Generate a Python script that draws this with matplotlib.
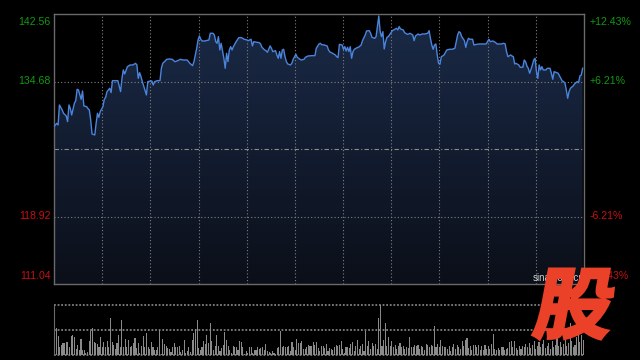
import numpy as np
import matplotlib
matplotlib.use("Agg")
import matplotlib.pyplot as plt
from matplotlib.colors import LinearSegmentedColormap
from matplotlib.font_manager import FontProperties
from matplotlib.patches import PathPatch
from matplotlib.textpath import TextPath
from matplotlib.transforms import Affine2D, IdentityTransform, blended_transform_factory

# 昨收与刻度
prev_close = 126.80
price_ticks = [142.56, 134.68, 126.80, 118.92, 111.04]
pct_ticks = ["+12.43%", "+6.21%", "", "-6.21%", "-12.43%"]
session_len = 390

# 分时价格 (分钟, 价格)
minutes = [0, 2, 3, 4, 6, 7, 9, 10, 11, 12, 13, 15, 16, 17, 18, 20, 21, 22, 24, 25,
           26, 27, 28, 30, 31, 32, 33, 34, 36, 37, 38, 39, 41, 42, 43, 45, 47, 49, 50, 51,
           52, 54, 56, 58, 60, 61, 62, 63, 64, 65, 66, 68, 69, 71, 72, 73, 74, 76, 78, 79,
           80, 82, 83, 85, 87, 89, 91, 93, 95,
           98, 100, 102, 103, 105, 106, 107, 108, 109, 111, 114, 115, 117, 118, 119, 120, 121, 122, 123, 125,
           126, 127, 128, 129, 130, 131, 132, 134, 136, 138, 140, 142, 143, 145, 146, 147, 149, 151, 152, 153,
           155, 156, 157, 158, 159, 160, 161, 163, 164, 165, 166, 167, 168, 169, 170, 171, 172, 174, 175, 176,
           178, 179, 181, 182, 184, 185, 187, 190, 192,
           193, 195, 196, 197, 199, 201, 202, 203, 205, 207, 208, 209, 210, 212, 213, 214, 215, 216, 217, 218,
           219, 220, 221, 223, 224, 226, 227, 229, 230, 232, 233, 234, 236, 237, 238, 239, 240, 241, 242, 243,
           244, 245, 246, 248, 249, 250, 252, 253, 254, 255, 257, 258, 260, 261, 262, 264, 265, 266, 268, 269,
           271, 273, 275, 276, 277, 278, 279, 280, 281, 282, 283, 284, 285, 286, 287, 289, 291,
           293, 295, 296, 297, 298, 299, 300, 302, 303, 304, 305, 306, 308, 309, 311, 313, 316, 318, 320, 321,
           323, 325, 326, 327, 329, 331, 332, 333, 334, 336, 337, 338, 339, 340, 342, 343, 345, 346, 347, 348,
           349, 350, 351, 352, 353, 354, 355, 356, 357, 358, 359, 360, 362, 363, 365, 366, 367, 368, 370, 371,
           372, 374, 375, 376, 377, 378, 379, 380, 382, 383, 385, 386, 387, 388, 389]
prices = [129.41, 129.80, 129.60, 131.94, 131.36, 130.97, 130.66, 130.00, 131.94, 131.55,
          130.77, 132.13, 132.45, 133.77, 133.69, 132.60, 133.57, 131.82, 131.75, 131.51,
          131.36, 130.19, 128.55, 128.44, 129.80, 130.97, 130.50, 131.16, 131.75, 132.60,
          132.83, 133.50, 133.89, 133.38, 134.78, 134.78, 134.78, 133.50, 135.05, 136.03,
          135.56, 136.41, 136.61, 136.61, 136.80, 136.61, 135.05, 135.71, 135.25, 134.66,
          134.16, 133.11, 134.66, 134.74, 134.74, 134.27, 134.66, 134.78, 134.78, 136.22,
          136.80, 137.11, 137.27, 137.31, 137.27, 136.99, 137.11, 137.27, 137.19,
          137.19, 136.80, 136.53, 137.00, 138.56, 139.53, 140.00, 139.61, 139.41, 139.41,
          139.53, 140.31, 140.31, 140.11, 139.33, 139.14, 139.92, 138.36, 139.14, 137.39,
          136.22, 137.97, 137.00, 138.36, 138.75, 138.36, 138.75, 139.33, 139.80, 139.80,
          139.61, 139.53, 139.45, 139.61, 138.83, 139.33, 139.26, 139.22, 139.06, 138.67,
          138.36, 138.28, 138.09, 138.44, 138.83, 138.56, 138.17, 138.28, 137.78, 137.39,
          138.17, 137.39, 138.36, 138.44, 137.58, 137.00, 136.73, 136.61, 136.80, 137.27,
          137.86, 137.51, 137.27, 137.19, 137.27, 137.51, 137.66, 137.70, 137.70,
          138.56, 139.06, 139.14, 138.98, 138.94, 138.83, 138.36, 138.13, 137.97, 137.78,
          137.58, 137.47, 139.02, 138.94, 138.44, 138.75, 138.24, 138.67, 138.17, 138.75,
          137.39, 138.17, 138.44, 138.63, 138.67, 138.94, 139.45, 140.11, 140.58, 140.62,
          140.31, 139.84, 139.72, 139.92, 141.09, 142.33, 140.50, 139.92, 140.50, 138.48,
          139.33, 139.84, 139.92, 140.38, 140.62, 140.70, 140.89, 140.70, 141.09, 140.81,
          140.70, 140.38, 140.19, 140.23, 140.31, 140.11, 139.45, 140.00, 140.23, 140.11,
          140.23, 140.23, 140.31, 140.62, 139.72, 138.94, 138.44, 138.94, 139.06, 137.78,
          136.80, 136.69, 137.58, 137.66, 137.78, 138.36, 138.44,
          138.44, 138.56, 139.33, 140.11, 140.50, 140.38, 139.92, 139.45, 138.67, 139.33,
          139.72, 139.61, 139.61, 138.94, 139.02, 139.06, 139.06, 139.06, 139.61, 139.33,
          139.41, 139.22, 139.06, 139.06, 139.06, 139.14, 139.06, 138.17, 137.58, 137.78,
          137.66, 137.58, 136.73, 136.80, 136.61, 136.34, 136.34, 137.19, 137.00, 136.49,
          136.22, 135.64, 136.10, 136.61, 137.19, 137.39, 135.83, 135.05, 136.61, 136.03,
          136.42, 136.03, 136.03, 136.22, 136.22, 135.64, 134.94, 135.83, 135.71, 135.64,
          135.33, 134.74, 134.67, 134.47, 133.69, 132.72, 133.50, 133.89, 134.16, 134.39,
          134.67, 134.55, 135.33, 135.44, 136.22]

# 成交量 (相对值)
volumes = [26, 55, 39, 16, 21, 24, 24, 26, 27, 16, 39, 41, 36, 12, 21, 10, 32, 10, 10, 5,
           7, 29, 49, 55, 27, 24, 22, 16, 37, 16, 27, 17, 29, 16, 75, 27, 20, 12, 24, 41,
           17, 70, 16, 32, 16, 30, 16, 19, 24, 34, 14, 24, 5, 19, 39, 16, 44, 17, 12, 26,
           16, 10, 10, 16, 51, 2, 32, 22, 19, 14, 12, 7, 17, 24, 17, 17, 19, 7, 10, 30,
           5, 9, 17, 7, 30, 44, 53, 70, 14, 10, 17, 28, 22, 41, 24, 65, 29, 10, 19, 41,
           19, 9, 14, 20, 46, 30, 19, 10, 5, 19, 16, 17, 10, 28, 26, 17, 2, 9, 5, 17,
           17, 5, 10, 10, 16, 12, 14, 17, 10, 22, 9, 7, 5, 9, 5, 3, 14, 17, 49, 16,
           19, 17, 17, 19, 9, 26, 16, 10, 32, 24, 24, 28, 12, 12, 17, 21, 19, 19, 26, 21,
           26, 14, 9, 19, 19, 14, 22, 9, 14, 12, 10, 17, 21, 19, 21, 29, 12, 5, 16, 16, 14,
           22, 26, 9, 19, 30, 12, 19, 22, 9, 48, 19, 29, 12, 24, 19, 22, 12, 75, 100, 19,
           30, 65, 19, 36, 19, 28, 16, 21, 12, 19, 24, 17, 19, 12, 17, 14, 36, 16, 17, 21,
           19, 21, 12, 19, 16, 10, 22, 21, 16, 21, 19, 59, 16, 22, 16, 30, 19, 16, 17, 12,
           19, 9, 17, 22, 12, 21, 17, 12, 29, 19, 30, 34, 14, 19, 10, 21, 21, 16, 21, 10,
           19, 10, 21, 12, 19, 12, 22, 43, 12, 10, 14, 10, 17, 16, 10, 12, 14, 26, 28, 17,
           28, 14, 10, 19, 12, 19, 17, 22,
           17, 24, 14, 21, 28, 12, 19, 26, 16, 22, 30, 14, 19, 24, 12, 28, 17, 21, 34, 19,
           26, 16, 22, 30, 19, 24, 65, 28, 17, 21, 36, 55, 26, 40, 30]

plt.rcParams["font.family"] = ["Liberation Sans", "DejaVu Sans"]

fig = plt.figure(figsize=(6.4, 3.6), dpi=100, facecolor="black")
ax = fig.add_axes([54 / 640, 76 / 360, 530 / 640, 270 / 360], facecolor="black")
vax = fig.add_axes([54 / 640, 5 / 360, 530 / 640, 50 / 360], facecolor="black")

# 渐变填充
poly = ax.fill_between(minutes, prices, price_ticks[-1], color="none", lw=0)
cmap = LinearSegmentedColormap.from_list("fill", ["#0b0f19", "#1a2a47"])
grad = np.linspace(0, 1, 256).reshape(-1, 1)
im = ax.imshow(grad, extent=[0, session_len, price_ticks[-1], price_ticks[0]],
               origin="lower", aspect="auto", cmap=cmap, zorder=1)
im.set_clip_path(poly.get_paths()[0], ax.transData)

ax.plot(minutes, prices, color="#4a84dc", lw=1.0, zorder=3)

ax.set_xlim(0, session_len)
ax.set_ylim(price_ticks[-1], price_ticks[0])
ax.set_xticks([])
ax.set_yticks([])
for sp in ax.spines.values():
    sp.set_color("#6a6a6a")
    sp.set_linewidth(1)

# 网格
for t in np.arange(1, 11) * session_len / 11:
    ax.axvline(t, color="#808080", lw=0.8, ls=(0, (1, 2)), zorder=2)
for p in [price_ticks[1], price_ticks[3]]:
    ax.axhline(p, color="#808080", lw=0.8, ls=(0, (1, 2)), zorder=2)
ax.axhline(prev_close, color="#8a8a8a", lw=0.8, ls=(0, (4, 2, 1, 2)), zorder=2)

# 刻度标签
trans = blended_transform_factory(ax.transAxes, ax.transData)
for i, (p, pct) in enumerate(zip(price_ticks, pct_ticks)):
    if i == 2:
        continue
    col = "#109a10" if p > prev_close else "#c81010"
    va = "top" if i == 0 else ("bottom" if i == 4 else "center")
    yy = p - 0.4 if i == 0 else (p + 0.4 if i == 4 else p)
    ax.text(-0.006, yy, f"{p:.2f}", transform=trans, ha="right", va=va,
            color=col, fontsize=7.6, clip_on=False)
    ax.text(1.011, yy, pct, transform=trans, ha="left", va=va,
            color=col, fontsize=7.6, clip_on=False)

# 成交量
vx = np.linspace(0.6, session_len - 0.6, len(volumes))
vax.bar(vx, volumes, width=0.8, color="#8a8a8a", lw=0, zorder=2)
vax.set_xlim(0, session_len)
vax.set_ylim(0, max(volumes))
vax.set_xticks([])
vax.set_yticks([])
for k, sp in vax.spines.items():
    sp.set_visible(k == "left")
vax.spines["left"].set_color("#6a6a6a")
for v in [0, max(volumes) / 2, max(volumes)]:
    vax.axhline(v, color="#808080", lw=1.3, ls=(0, (1, 1)), zorder=1, clip_on=False)

# 水印
fig.text(533 / 640, 1 - 278 / 360, "sina.com.cn", color="#d0d0d0", fontsize=7,
         va="center", ha="left")

fp = FontProperties(family="Noto Sans CJK SC", weight="heavy")
tp = TextPath((0, 0), "股", size=100, prop=fp)
ext = tp.get_extents()
logo_tr = (Affine2D().translate(-ext.x0, -ext.y0)
           .scale(1 / ext.width, 1 / ext.height)
           .skew_deg(10, 0)
           .scale(74, 70)
           .translate(532, 21))
fig.add_artist(PathPatch(logo_tr.transform_path(tp), transform=IdentityTransform(),
                         facecolor="#eb4128", edgecolor="#eb4128", lw=2.2,
                         joinstyle="miter", zorder=10))

fig.savefig("out.png", dpi=100, facecolor="black")
